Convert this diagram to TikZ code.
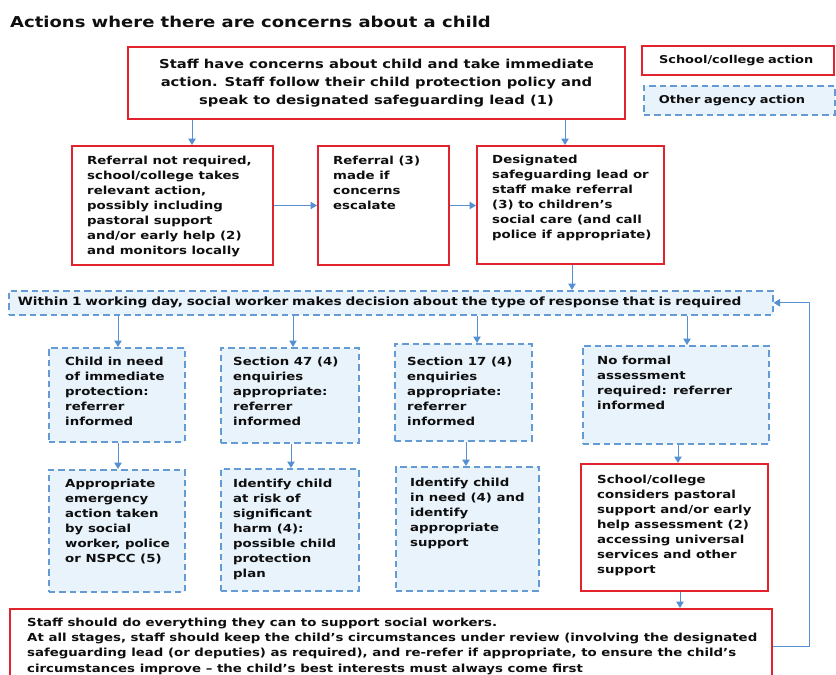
\documentclass[tikz,border=0pt]{standalone}
\usepackage{fontspec}
\setmainfont{DejaVu Sans}[FakeStretch=1.2]
\usetikzlibrary{arrows.meta}
\definecolor{redc}{RGB}{226,35,45}
\definecolor{bluec}{RGB}{100,155,212}
\definecolor{arrc}{RGB}{85,145,210}
\definecolor{fillc}{RGB}{233,243,251}
\definecolor{txtc}{RGB}{15,15,15}
\tikzset{
  redbox/.style={draw=redc, line width=2pt, fill=white, rectangle, inner sep=0pt, anchor=north west},
  bluebox/.style={draw=bluec, line width=1.6pt, dash pattern=on 6.5pt off 4pt, fill=fillc, rectangle, inner sep=0pt, anchor=north west},
  boxtxt/.style={inner sep=0pt, anchor=north west, align=left, text=txtc, font=\bfseries\fontsize{11.1}{15}\selectfont},
  legtxt/.style={align=left, text=txtc, font=\bfseries\fontsize{10.8}{13}\selectfont},
  arr/.style={draw=arrc, line width=1pt, -{Triangle[length=6.5pt,width=7.5pt]}},
}
\begin{document}
\begin{tikzpicture}[x=1pt,y=-1pt]
\useasboundingbox (0,0) rectangle (836,675);
\fill[white] (0,0) rectangle (836,675);
\clip (0,0) rectangle (836,675);

% title
\node[anchor=west, inner sep=0pt, text=txtc, font=\bfseries\fontsize{15}{18}\selectfont] (title) at (10,22) {Actions where there are concerns about a child};

% top box
\node[redbox, minimum width=497pt, minimum height=72pt, align=center, text=txtc, font=\bfseries\fontsize{12.3}{18}\selectfont] (T) at (127,46)
 {Staff have concerns about child and take immediate\\action. Staff follow their child protection policy and\\speak to designated safeguarding lead (1)};

% legend
\node[redbox, legtxt, minimum width=192pt, minimum height=29pt, inner xsep=17pt, text width=158pt] (L1) at (641,45) {School/college action};
\node[bluebox, legtxt, minimum width=191pt, minimum height=29pt, inner xsep=15pt, text width=161pt] (L2) at (643,85) {Other agency action};

% row 2
\node[redbox, minimum width=201pt, minimum height=119pt] (A) at (71,145) {};
\node[boxtxt] (At) at ([shift={(16,11)}]A.north west) {Referral not required,\\school/college takes\\relevant action,\\possibly including\\pastoral support\\and/or early help (2)\\and monitors locally};
\node[redbox, minimum width=131pt, minimum height=119pt] (B) at (317,145) {};
\node[boxtxt] (Bt) at ([shift={(16,11)}]B.north west) {Referral (3)\\made if\\concerns\\escalate};
\node[redbox, minimum width=187pt, minimum height=118pt] (C) at (476,145) {};
\node[boxtxt] (Ct) at ([shift={(16,10)}]C.north west) {Designated\\safeguarding lead or\\staff make referral\\(3) to children’s\\social care (and call\\police if appropriate)};

% decision bar
\node[bluebox, minimum width=764pt, minimum height=24pt, inner xsep=9pt, text width=746pt, align=left, text=txtc, font=\bfseries\fontsize{11.4}{13}\selectfont] (bar) at (8,290)
 {Within 1 working day, social worker makes decision about the type of response that is required};

% row 3
\node[bluebox, minimum width=136pt, minimum height=94pt] (D1) at (48,347) {};
\node[boxtxt] (D1t) at ([shift={(17,10)}]D1.north west) {Child in need\\of immediate\\protection:\\referrer\\informed};
\node[bluebox, minimum width=138pt, minimum height=95pt] (D2) at (220,347) {};
\node[boxtxt] (D2t) at ([shift={(13,10)}]D2.north west) {Section 47 (4)\\enquiries\\appropriate:\\referrer\\informed};
\node[bluebox, minimum width=137pt, minimum height=97pt] (D3) at (394,343) {};
\node[boxtxt] (D3t) at ([shift={(13,13.5)}]D3.north west) {Section 17 (4)\\enquiries\\appropriate:\\referrer\\informed};
\node[bluebox, minimum width=186pt, minimum height=98pt] (D4) at (582,345) {};
\node[boxtxt] (D4t) at ([shift={(15,10.5)}]D4.north west) {No formal\\assessment\\required: referrer\\informed};

% row 4
\node[bluebox, minimum width=136pt, minimum height=122pt] (E1) at (48,469) {};
\node[boxtxt] (E1t) at ([shift={(17,9.5)}]E1.north west) {Appropriate\\emergency\\action taken\\by social\\worker, police\\or NSPCC (5)};
\node[bluebox, minimum width=138pt, minimum height=122pt] (E2) at (220,468) {};
\node[boxtxt] (E2t) at ([shift={(13,10.5)}]E2.north west) {Identify child\\at risk of\\significant\\harm (4):\\possible child\\protection\\plan};
\node[bluebox, minimum width=143pt, minimum height=124pt] (E3) at (395,466) {};
\node[boxtxt] (E3t) at ([shift={(15,11.5)}]E3.north west) {Identify child\\in need (4) and\\identify\\appropriate\\support};
\node[redbox, minimum width=187pt, minimum height=127pt] (E4) at (580,463) {};
\node[boxtxt] (E4t) at ([shift={(17,11.5)}]E4.north west) {School/college\\considers pastoral\\support and/or early\\help assessment (2)\\accessing universal\\services and other\\support};

% bottom box
\node[redbox, minimum width=762pt, minimum height=74pt] (Bot) at (9,608) {};
\node[boxtxt, font=\bfseries\fontsize{11.1}{15.3}\selectfont] (Bott) at ([shift={(18,9.5)}]Bot.north west) {Staff should do everything they can to support social workers.\\At all stages, staff should keep the child’s circumstances under review (involving the designated\\safeguarding lead (or deputies) as required), and re-refer if appropriate, to ensure the child’s\\circumstances improve – the child’s best interests must always come first};

% arrow x positions
\coordinate (xa) at (192,0);
\coordinate (xc) at (565,0);
\coordinate (xbar) at (572,0);
\coordinate (xd1) at (118,0);
\coordinate (xd2) at (293,0);
\coordinate (xd3) at (477,0);
\coordinate (xd4) at (687,0);
\coordinate (xe1) at (118,0);
\coordinate (xe2) at (291,0);
\coordinate (xe3) at (466,0);
\coordinate (xe4) at (678,0);
\coordinate (xbot) at (680,0);
\coordinate (xfb) at (809,0);

% connectors
\draw[arr] (xa |- T.south) -- (xa |- A.north);
\draw[arr] (xc |- T.south) -- (xc |- C.north);
\draw[arr] (A.east) -- (B.west);
\draw[arr] (B.east) -- (B.east -| C.west);
\draw[arr] (xbar |- C.south) -- (xbar |- bar.north);
\draw[arr] (xd1 |- bar.south) -- (xd1 |- D1.north);
\draw[arr] (xd2 |- bar.south) -- (xd2 |- D2.north);
\draw[arr] (xd3 |- bar.south) -- (xd3 |- D3.north);
\draw[arr] (xd4 |- bar.south) -- (xd4 |- D4.north);
\draw[arr] (xe1 |- D1.south) -- (xe1 |- E1.north);
\draw[arr] (xe2 |- D2.south) -- (xe2 |- E2.north);
\draw[arr] (xe3 |- D3.south) -- (xe3 |- E3.north);
\draw[arr] (xe4 |- D4.south) -- (xe4 |- E4.north);
\draw[arr] (xbot |- E4.south) -- (xbot |- Bot.north);
\draw[arr] (Bot.east) -| (xfb |- bar.east) -- (bar.east);
\end{tikzpicture}
\end{document}
